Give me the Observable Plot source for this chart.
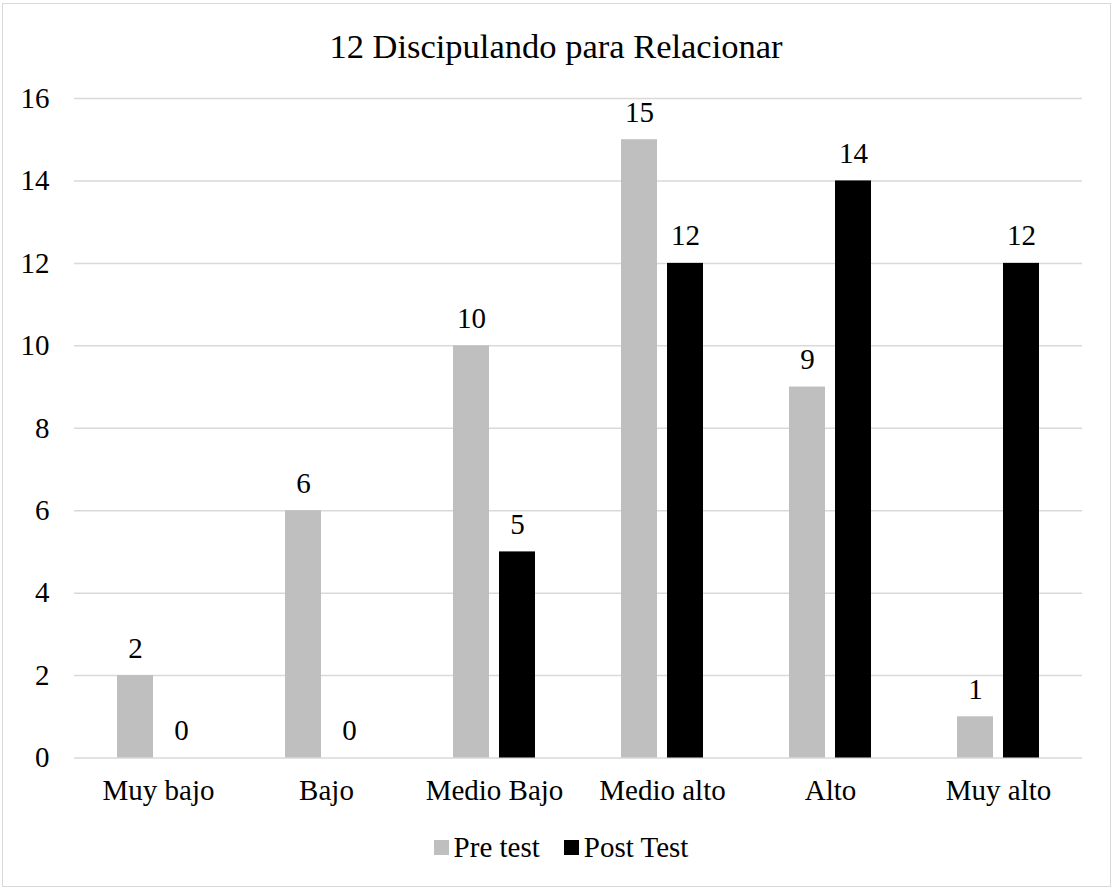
<!DOCTYPE html>
<html>
<head>
<meta charset="utf-8">
<script src="https://cdn.jsdelivr.net/npm/d3@7"></script>
<script src="https://cdn.jsdelivr.net/npm/@observablehq/plot@0.6"></script>
<style>
  html, body { margin: 0; padding: 0; background: #fff; }
  body { width: 1112px; height: 888px; position: relative; overflow: hidden; font-family: "Liberation Serif", "Times New Roman", serif; }
  #frame { position: absolute; left: 2px; top: 3px; width: 1109px; height: 884px; box-sizing: border-box; border: 1px solid #d9d9d9; }
  #title { position: absolute; left: 0; width: 1112px; top: 29px; text-align: center; font-size: 34.5px; line-height: 1; color: #000; }
  #chart { position: absolute; left: 0; top: 70px; }
  #legend { position: absolute; left: 0; width: 1122px; top: 833px; text-align: center; font-size: 29px; line-height: 1; color: #000; }
  .item { display: inline-block; margin: 0 12px; }
  .sw { display: inline-block; width: 15px; height: 15px; margin-right: 5px; margin-bottom: 2px; vertical-align: baseline; }
</style>
</head>
<body>
<div id="frame"></div>
<div id="title"></div>
<div id="chart"></div>
<div id="legend"></div>
<script>
const title = "12 Discipulando para Relacionar";
const categories = ["Muy bajo", "Bajo", "Medio Bajo", "Medio alto", "Alto", "Muy alto"];
const series = ["Pre test", "Post Test"];
const preTest = [2, 6, 10, 15, 9, 1];
const postTest = [0, 0, 5, 12, 14, 12];
const seriesColors = ["#bfbfbf", "#000000"];
const yTicks = [0, 2, 4, 6, 8, 10, 12, 14, 16];

const values = [preTest, postTest];
const data = [];
categories.forEach((c, i) => {
  series.forEach((s, j) => data.push({category: c, series: s, value: values[j][i]}));
});

document.getElementById("title").textContent = title;

const chart = Plot.plot({
  width: 1112,
  height: 740,
  marginLeft: 73,
  marginRight: 30,
  marginTop: 28,
  marginBottom: 52.5,
  style: {fontFamily: "Liberation Serif, Times New Roman, serif", fontSize: "29px", color: "#000", background: "transparent"},
  fx: {domain: categories, padding: 0, label: null, tickSize: 0, tickPadding: 21},
  x: {domain: series, paddingInner: 0.21, paddingOuter: 0.9, axis: null},
  y: {domain: [0, 16], ticks: yTicks, tickSize: 0, tickPadding: 25, label: null, tickFormat: d => String(d)},
  color: {domain: series, range: seriesColors},
  marks: [
    Plot.ruleY(yTicks, {stroke: "#d9d9d9", strokeWidth: 1.5}),
    Plot.barY(data, {fx: "category", x: "series", y: "value", fill: "series"}),
    Plot.text(data, {fx: "category", x: "series", y: "value", text: d => String(d.value), lineAnchor: "bottom", dy: -18, fill: "#000", fontSize: 29})
  ]
});
document.getElementById("chart").appendChild(chart);

const legend = document.getElementById("legend");
series.forEach((s, i) => {
  const item = document.createElement("span");
  item.className = "item";
  const sw = document.createElement("span");
  sw.className = "sw";
  sw.style.background = seriesColors[i];
  item.appendChild(sw);
  item.appendChild(document.createTextNode(s));
  legend.appendChild(item);
});
</script>
</body>
</html>
